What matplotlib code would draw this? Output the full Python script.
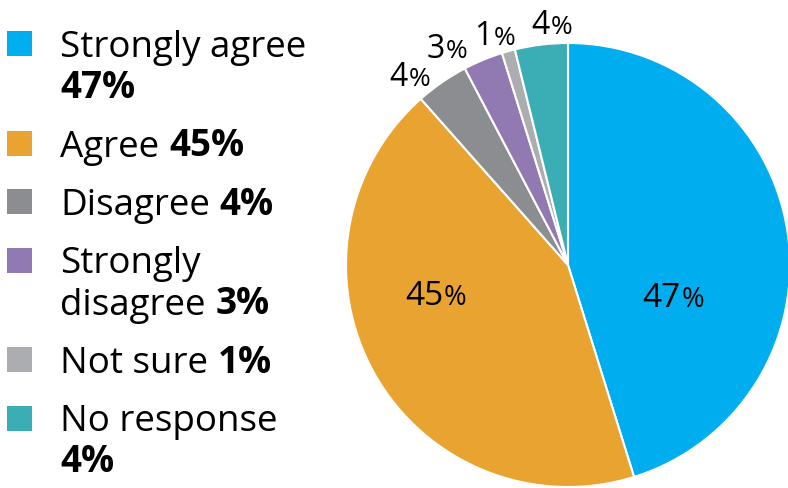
import numpy as np
import matplotlib
matplotlib.use("Agg")
from matplotlib import pyplot as plt
from matplotlib.patches import Rectangle

# data
labels = ["Strongly agree", "Agree", "Disagree", "Strongly disagree", "Not sure", "No response"]
values = [47, 45, 4, 3, 1, 4]
colors = ["#00AEEF", "#E8A330", "#8B8D90", "#9179B1", "#ABADB0", "#3AADB5"]
# how the legend text wraps (normal part, bold value goes after it)
legend_text = ["Strongly agree\n", "Agree ", "Disagree ", "Strongly\ndisagree ", "Not sure ", "No response\n"]

# label placement: radius (pie = 1) and angle nudge in degrees
label_r = [0.49, 0.61, 1.12, 1.13, 1.10, 1.10]
label_nudge = [-24, -18, 5, 6.4, 2, -3]
label_size = [24, 24, 23, 23, 23, 23]

W, H, DPI = 788, 489, 100
plt.rcParams['font.family'] = ['Open Sans', 'DejaVu Sans']

fig = plt.figure(figsize=(W / DPI, H / DPI), dpi=DPI)
renderer = fig.canvas.get_renderer()

# pie axes placed so centre ~ (568, 266) px, radius ~222 px
cx, cy, R = 568, 266, 222
ax = fig.add_axes([(cx - R) / W, (H - cy - R) / H, 2 * R / W, 2 * R / H])
wedges, _ = ax.pie(values, colors=colors, startangle=90, counterclock=False,
                   wedgeprops=dict(edgecolor='white', linewidth=1.5))
ax.set_xlim(-1, 1)
ax.set_ylim(-1, 1)
ax.set_aspect('equal')
ax.axis('off')


def pct_label(x, y, num, size):
    # number with a smaller percent sign, centred at (x, y) in data coords
    t1 = ax.text(x, y, str(num), fontsize=size, ha='left', va='baseline')
    t2 = ax.text(x, y, '%', fontsize=size * 0.82, ha='left', va='baseline')
    w1 = t1.get_window_extent(renderer).width
    w2 = t2.get_window_extent(renderer).width
    px0, py0 = ax.transData.transform((x, y))
    left = px0 - (w1 + w2) / 2
    base = py0 - size * DPI / 72 * 0.36
    inv = ax.transData.inverted()
    t1.set_position(inv.transform((left, base)))
    t2.set_position(inv.transform((left + w1 + 1, base)))


for i, w in enumerate(wedges):
    mid = np.deg2rad((w.theta1 + w.theta2) / 2 + label_nudge[i])
    pct_label(label_r[i] * np.cos(mid), label_r[i] * np.sin(mid), values[i], label_size[i])

# legend drawn by hand: square + text with bold value
fs = 26.5
line_gap = 41
entry_gap = 58.5
sq = 25
ypx = 57
for i in range(len(labels)):
    fig.add_artist(Rectangle((7 / W, 1 - ypx / H), sq / W, sq / H, transform=fig.transFigure,
                             facecolor=colors[i], edgecolor='none'))
    lines = legend_text[i].split('\n')
    for j, line in enumerate(lines):
        y = 1 - ypx / H
        xpx = 60
        if line.strip():
            t = fig.text(xpx / W, y, line.strip(), fontsize=fs, ha='left', va='baseline')
            xpx += t.get_window_extent(renderer).width + 10
        if j == len(lines) - 1:
            fig.text(xpx / W, y, '%d%%' % values[i], fontsize=fs, fontweight='bold',
                     ha='left', va='baseline')
        else:
            ypx += line_gap
    ypx += entry_gap

fig.savefig('out.png', dpi=DPI)
